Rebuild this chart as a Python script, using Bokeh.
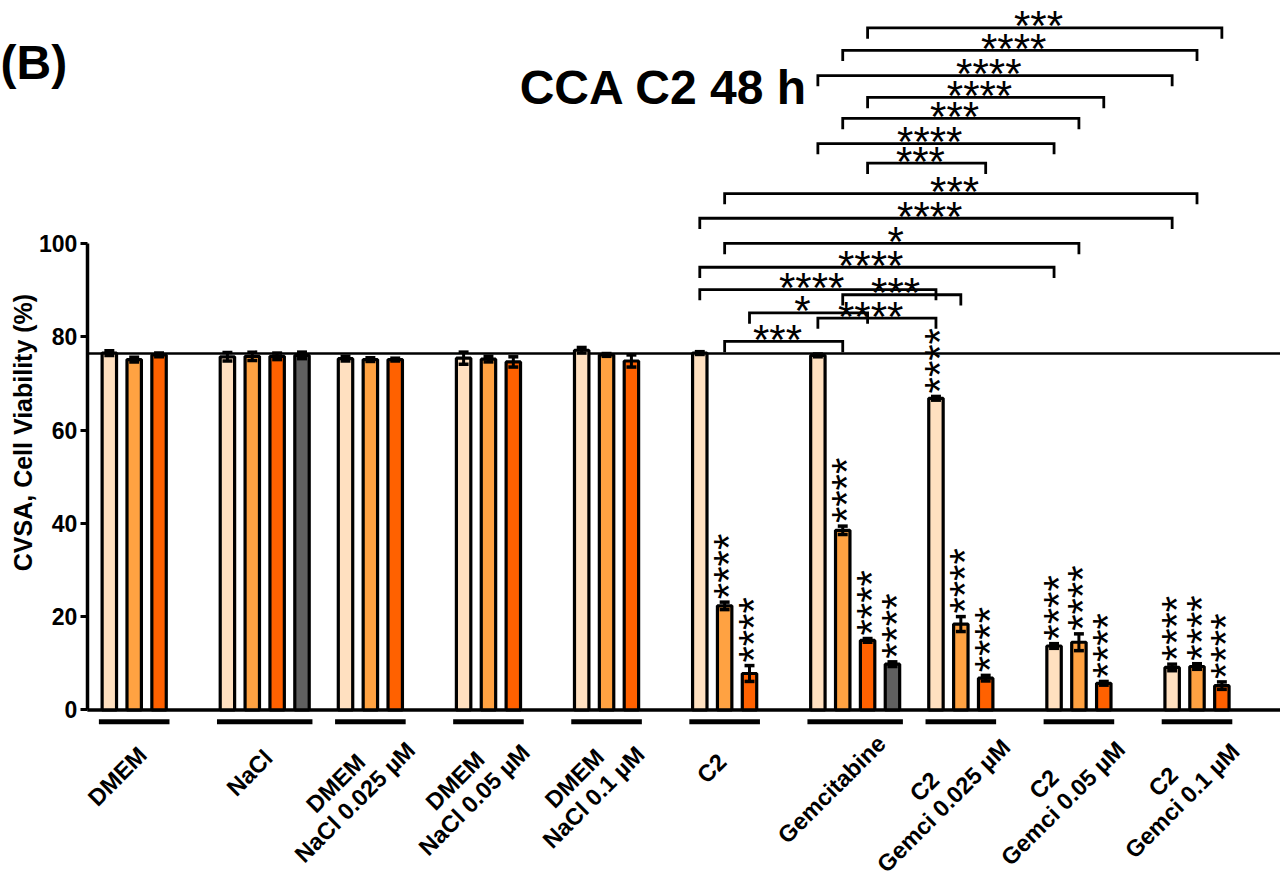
import math
from bokeh.plotting import figure
from bokeh.models import Range1d, FixedTicker, Label, ColumnDataSource
from bokeh.embed import file_html
from bokeh.resources import INLINE
from bokeh.core.properties import value

# ---------------- data ----------------
groups = ["DMEM", "NaCl", "DMEM\nNaCl 0.025 µM", "DMEM\nNaCl 0.05 µM", "DMEM\nNaCl 0.1 µM",
          "C2", "Gemcitabine", "C2\nGemci 0.025 µM", "C2\nGemci 0.05 µM", "C2\nGemci 0.1 µM"]
light_mean = [76.5, 75.7, 75.3, 75.4, 77.1, 76.5, 76.0, 66.8, 13.7, 9.1]
light_err = [0.5, 0.9, 0.5, 1.3, 0.6, 0.3, 0.3, 0.4, 0.5, 0.7]
medium_mean = [75.1, 75.8, 75.1, 75.2, 76.1, 22.3, 38.5, 18.4, 14.5, 9.3]
medium_err = [0.5, 0.9, 0.4, 0.6, 0.3, 0.8, 0.9, 1.6, 1.8, 0.6]
dark_mean = [76.1, 75.8, 75.1, 74.6, 74.8, 7.8, 14.9, 6.8, 5.7, 5.2]
dark_err = [0.4, 0.7, 0.3, 1.1, 1.3, 1.7, 0.4, 0.6, 0.4, 0.8]
gray_mean = [None, 76.0, None, None, None, None, 9.8, None, None, None]
gray_err = [None, 0.7, None, None, None, None, 0.5, None, None, None]
light_stars = ["", "", "", "", "", "", "", "****", "****", "****"]
medium_stars = ["", "", "", "", "", "****", "****", "****", "****", "****"]
dark_stars = ["", "", "", "", "", "****", "****", "****", "****", "****"]
gray_stars = ["", "", "", "", "", "", "****", "", "", ""]
control_level = 76.4
y_ticks = [0, 20, 40, 60, 80, 100]

# pairwise comparisons: (group index, bar index)
cmp_from = [(6, 2), (6, 1), (6, 0), (6, 2), (6, 1), (6, 0), (6, 2), (5, 1),
            (5, 0), (5, 1), (5, 0), (5, 0), (6, 1), (5, 2), (6, 0), (5, 1)]
cmp_to = [(9, 2), (9, 1), (9, 0), (8, 2), (8, 1), (8, 0), (7, 2), (9, 1),
          (9, 0), (8, 1), (8, 0), (7, 0), (7, 1), (6, 2), (7, 0), (6, 1)]
cmp_height = [146.2, 141.4, 136.0, 131.3, 126.8, 121.4, 117.2, 110.7,
              105.4, 100.0, 94.9, 90.1, 89.0, 85.1, 84.0, 79.0]
cmp_label = ["***", "****", "****", "****", "***", "****", "***", "***",
             "****", "*", "****", "****", "***", "*", "****", "***"]

# ---------------- layout / style ----------------
W, H = 1280, 882
SX, SY = W / 1282.0, H / 884.0
PX_X, X0 = 24.9, 109.0      # reference pixels per x unit, x of first bar
PX_Y, Y0 = 4.675, 711.0     # reference pixels per y unit, y of zero
GROUP_STEP = 4.75
BAR_W = 0.58
LEG = 2.3
FONT = "Liberation Sans"
STAR_FS = 42
colors = ["#FFE0C0", "#FFA242", "#FF6100", "#606060"]

def ux(px):
    return (px - X0) / PX_X

def uy(py):
    return (Y0 - py) / PX_Y

x_start, x_end = ux(0), ux(1282)
axis_x = ux(87)

p = figure(width=W, height=H, output_backend="svg", toolbar_location=None,
           x_range=Range1d(x_start, x_end), y_range=Range1d(uy(884), uy(0)),
           x_axis_location=None, y_axis_location="left",
           min_border_left=0, min_border_right=0, min_border_top=0, min_border_bottom=0)
p.outline_line_color = None
p.grid.visible = False
p.background_fill_color = "white"

ax = p.yaxis[0]
ax.fixed_location = axis_x
ax.bounds = (0, 100)
ax.ticker = FixedTicker(ticks=y_ticks)
ax.minor_tick_line_color = None
ax.major_tick_in = 0
ax.major_tick_out = 7
ax.major_tick_line_width = 3
ax.axis_line_width = 3.5
ax.axis_line_color = "black"
ax.major_tick_line_color = "black"
ax.major_label_text_font = FONT
ax.major_label_text_font_style = "bold"
ax.major_label_text_font_size = "23px"
ax.major_label_text_color = "black"
ax.major_label_standoff = 3

# x axis line and control reference line (start at the y axis)
p.segment(x0=[axis_x, axis_x], y0=[0, control_level], x1=[x_end, x_end], y1=[0, control_level],
          line_color="black", line_width=[3.5, 2.5])

# ---------------- bars ----------------
series = [(light_mean, light_err, light_stars), (medium_mean, medium_err, medium_stars),
          (dark_mean, dark_err, dark_stars), (gray_mean, gray_err, gray_stars)]
bx, btop, bcol = [], [], []
ex, elo, ehi = [], [], []
sx_, sy_, st_ = [], [], []
for j, (m, e, s) in enumerate(series):
    for g in range(len(groups)):
        if m[g] is None:
            continue
        x = g * GROUP_STEP + j
        bx.append(x); btop.append(m[g]); bcol.append(colors[j])
        ex.append(x); elo.append(m[g] - e[g]); ehi.append(m[g] + e[g])
        if s[g]:
            sx_.append(x); sy_.append(m[g] + e[g]); st_.append(s[g])

p.vbar(x=bx, top=btop, bottom=0, width=BAR_W, fill_color=bcol, line_color="black", line_width=3.2)
p.segment(x0=ex, y0=elo, x1=ex, y1=ehi, line_color="black", line_width=3)
cap = 0.2
p.segment(x0=[x - cap for x in ex], y0=ehi, x1=[x + cap for x in ex], y1=ehi, line_color="black", line_width=3.5)
p.segment(x0=[x - cap for x in ex], y0=elo, x1=[x + cap for x in ex], y1=elo, line_color="black", line_width=3.5)

p.text(x=sx_, y=sy_, text=st_, angle=math.pi / 2, text_align="left", text_baseline="middle",
       x_offset=4, y_offset=-3, text_font=value(FONT),
       text_font_size=value(f"{STAR_FS}px"), text_color="black")

# ---------------- group underlines and labels ----------------
AW = {'D': .722, 'M': .833, 'E': .667, 'N': .722, 'a': .556, 'C': .722, 'l': .278, ' ': .278,
      '0': .556, '.': .278, '2': .556, '5': .556, '1': .556, 'µ': .576, 'G': .778, 'e': .556,
      'm': .889, 'c': .556, 'i': .278, 't': .333, 'b': .611, 'n': .611}
LBL_FS = 23.5

def text_w(s, fs):
    return sum(AW.get(ch, 0.6) for ch in s) * fs

ux0, ux1, uyy = [], [], []
lx, ly, lt, lxo, lyo = [], [], [], [], []
for g, name in enumerate(groups):
    nb = 4 if gray_mean[g] is not None else 3
    first = g * GROUP_STEP
    last = g * GROUP_STEP + nb - 1
    ux0.append(first - 0.42); ux1.append(last + 0.42); uyy.append(uy(723))
    tick = (first + last) / 2
    lines = name.split("\n")
    n = len(lines)
    Wd = max(text_w(l, LBL_FS) for l in lines)
    cx = -10 - 0.095 * Wd
    cy = 53 + 0.19 * Wd
    for i, l in enumerate(lines):
        k = (i - (n - 1) / 2) * 27 * 0.7071
        lx.append(tick); ly.append(0); lt.append(l)
        lxo.append((cx + k) * SX); lyo.append((cy + k) * SY)

p.segment(x0=ux0, y0=uyy, x1=ux1, y1=uyy, line_color="black", line_width=5, line_cap="butt")
lsrc = ColumnDataSource(dict(x=lx, y=ly, text=lt, xo=lxo, yo=lyo))
p.text(x="x", y="y", text="text", x_offset="xo", y_offset="yo", source=lsrc,
       angle=math.pi / 4, text_align="center", text_baseline="middle",
       text_font=value(FONT), text_font_style="bold", text_font_size=value(f"{LBL_FS}px"),
       text_color="black")

# ---------------- comparison brackets ----------------
bxs, bys, blx, bly = [], [], [], []
for (ga, ja), (gb, jb), h in zip(cmp_from, cmp_to, cmp_height):
    xa = ga * GROUP_STEP + ja
    xb = gb * GROUP_STEP + jb
    bxs.append([xa, xa, xb, xb]); bys.append([h - LEG, h, h, h - LEG])
    blx.append((xa + xb) / 2 - 0.25); bly.append(h)
p.multi_line(xs=bxs, ys=bys, line_color="black", line_width=2.8, line_join="miter")
p.text(x=blx, y=bly, text=cmp_label, text_align="center", text_baseline="middle",
       y_offset=-2, text_font=value(FONT), text_font_size=value(f"{STAR_FS}px"), text_color="black")

# ---------------- titles ----------------
p.add_layout(Label(x=ux(520), y=uy(87), text="CCA C2 48 h",
                   text_font=FONT, text_font_style="bold", text_font_size="48px",
                   text_align="left", text_baseline="middle", text_color="black"))
p.add_layout(Label(x=ux(0), y=uy(62), text="(B)",
                   text_font=FONT, text_font_style="bold", text_font_size="48px",
                   text_align="left", text_baseline="middle", text_color="black"))
p.add_layout(Label(x=ux(23), y=uy(433), text="CVSA, Cell Viability (%)",
                   angle=math.pi / 2, text_font=FONT, text_font_style="bold", text_font_size="25px",
                   text_align="center", text_baseline="middle", text_color="black"))

open("out.html", "w").write(file_html(p, INLINE))
